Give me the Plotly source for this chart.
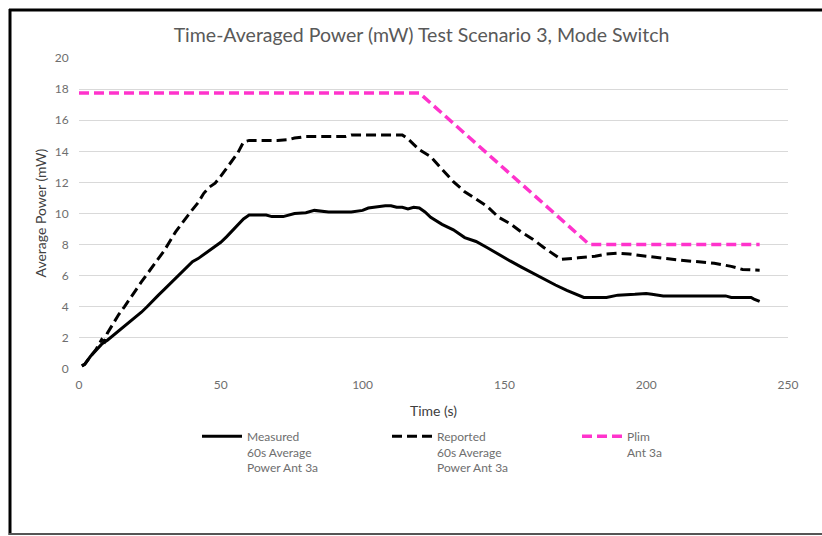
import plotly.graph_objects as go

# ---- data ----
measured_t = [1, 2, 4, 6, 8, 10, 12, 14, 16, 18, 20, 22, 24, 26, 28, 30, 32, 34, 36, 38, 40,
              42, 44, 46, 48, 50, 52, 54, 56, 58, 60, 64, 66, 68, 72, 76, 80, 83, 85, 88, 92,
              96, 100, 102, 104, 106, 108, 110, 112, 114, 116, 118, 120, 122, 124, 128, 132,
              136, 140, 144, 148, 152, 156, 160, 164, 168, 172, 176, 178, 186, 190, 196, 200,
              202, 206, 210, 220, 228, 230, 237, 238, 240]
measured_v = [0.2, 0.3, 0.8, 1.2, 1.6, 1.85, 2.15, 2.4, 2.7, 3.0, 3.3, 3.65, 4.0, 4.4, 4.75,
              5.1, 5.45, 5.85, 6.2, 6.55, 6.9, 7.1, 7.35, 7.6, 7.85, 8.15, 8.5, 8.9, 9.25, 9.65,
              9.9, 9.9, 9.9, 9.8, 9.8, 10.0, 10.05, 10.2, 10.15, 10.1, 10.1, 10.1, 10.2, 10.35,
              10.4, 10.45, 10.5, 10.5, 10.4, 10.4, 10.3, 10.4, 10.35, 10.1, 9.75, 9.3, 8.95,
              8.45, 8.2, 7.8, 7.35, 6.95, 6.55, 6.15, 5.8, 5.4, 5.05, 4.75, 4.6, 4.6, 4.75,
              4.8, 4.85, 4.8, 4.7, 4.7, 4.7, 4.7, 4.6, 4.6, 4.5, 4.35]

reported_t = [1, 2, 4, 6, 8, 9, 10, 12, 14, 16, 18, 20, 22, 24, 26, 28, 30, 32, 34, 36, 38,
              40, 42, 44, 46, 48, 50, 52, 54, 56, 58, 60, 70, 74, 76, 78, 80, 94, 96, 114, 116,
              118, 120, 124, 128, 132, 136, 140, 144, 148, 152, 156, 160, 164, 168, 170, 176,
              182, 186, 190, 194, 200, 212, 224, 230, 234, 240]
reported_v = [0.2, 0.3, 0.8, 1.25, 1.9, 1.75, 2.3, 2.9, 3.5, 4.0, 4.55, 5.1, 5.6, 6.1, 6.6,
              7.1, 7.6, 8.2, 8.8, 9.3, 9.8, 10.25, 10.7, 11.3, 11.7, 11.95, 12.4, 12.9, 13.4,
              13.9, 14.6, 14.7, 14.7, 14.75, 14.85, 14.9, 14.95, 14.95, 15.05, 15.05, 14.8,
              14.45, 14.1, 13.65, 12.85, 12.05, 11.4, 10.9, 10.45, 9.75, 9.35, 8.8, 8.35, 7.8,
              7.3, 7.05, 7.15, 7.25, 7.4, 7.45, 7.4, 7.25, 7.0, 6.8, 6.6, 6.4, 6.35]

plim_t = [0, 120, 180, 240]
plim_v = [17.75, 17.75, 8, 8]

names = ["Measured<br>60s Average<br>Power Ant 3a",
         "Reported<br>60s Average<br>Power Ant 3a",
         "Plim<br>Ant 3a"]

x_ticks = [0, 50, 100, 150, 200, 250]
y_ticks = [0, 2, 4, 6, 8, 10, 12, 14, 16, 18, 20]

FONT = "Lato"
TICK = "#6e6e6e"

fig = go.Figure()
fig.add_trace(go.Scatter(x=measured_t, y=measured_v, mode="lines", name=names[0],
                         line=dict(color="#000000", width=3)))
fig.add_trace(go.Scatter(x=reported_t, y=reported_v, mode="lines", name=names[1],
                         line=dict(color="#000000", width=3, dash="10px,5px")))
fig.add_trace(go.Scatter(x=plim_t, y=plim_v, mode="lines", name=names[2],
                         line=dict(color="#FF33CC", width=3.5, dash="10px,5px")))

W, H = 822, 536
L, R, T, B = 79, 788, 58, 369   # plot area in pixels

def px(xp):
    return (xp - L) / (R - L)

def py(yp):
    return (B - yp) / (B - T)

fig.update_layout(
    width=W, height=H, autosize=False,
    margin=dict(l=L, r=W - R, t=T, b=H - B, pad=0),
    paper_bgcolor="white", plot_bgcolor="white",
    font=dict(family=FONT, color=TICK, size=12),
    title=dict(text="Time-Averaged Power (mW) Test Scenario 3, Mode Switch",
               x=421.5 / W, xanchor="center", y=1 - 35 / H, yanchor="middle",
               font=dict(family=FONT, size=19.5, color="#595959")),
    xaxis=dict(range=[0, 250], tickvals=x_ticks, showgrid=False, zeroline=False,
               showline=False, ticks="outside", ticklen=5, tickcolor="rgba(0,0,0,0)",
               tickfont=dict(size=12, color=TICK)),
    yaxis=dict(range=[0, 20], tickvals=y_ticks, showgrid=True, gridcolor="#D9D9D9",
               gridwidth=1, zeroline=False, showline=False, ticks="outside", ticklen=7,
               tickcolor="rgba(0,0,0,0)", tickfont=dict(size=12, color=TICK)),
    showlegend=True,
    legend=dict(orientation="h", x=px(197), y=py(422), xanchor="left", yanchor="top",
                valign="top", itemwidth=40, entrywidth=135, entrywidthmode="pixels",
                font=dict(family=FONT, size=12, color=TICK), bgcolor="rgba(0,0,0,0)"),
    annotations=[
        dict(text="Average Power (mW)", xref="paper", yref="paper", x=px(40), y=0.5,
             textangle=-90, showarrow=False, xanchor="center", yanchor="middle",
             font=dict(family=FONT, size=14, color="#404040")),
        dict(text="Time (s)", xref="paper", yref="paper", x=px(433), y=py(410),
             showarrow=False, xanchor="center", yanchor="middle",
             font=dict(family=FONT, size=14, color="#404040")),
    ],
    shapes=[
        dict(type="line", xref="paper", yref="paper", x0=px(10), x1=px(10), y0=py(9), y1=py(535),
             line=dict(color="#000000", width=3)),
        dict(type="line", xref="paper", yref="paper", x0=px(9), x1=px(830), y0=py(10), y1=py(10),
             line=dict(color="#000000", width=3)),
        dict(type="line", xref="paper", yref="paper", x0=px(9), x1=px(830), y0=py(534), y1=py(534),
             line=dict(color="#555555", width=2)),
    ],
)

fig.write_html("out.html", config={"displayModeBar": False},
               post_script="document.body.style.margin='0';document.body.style.overflow='hidden';")
